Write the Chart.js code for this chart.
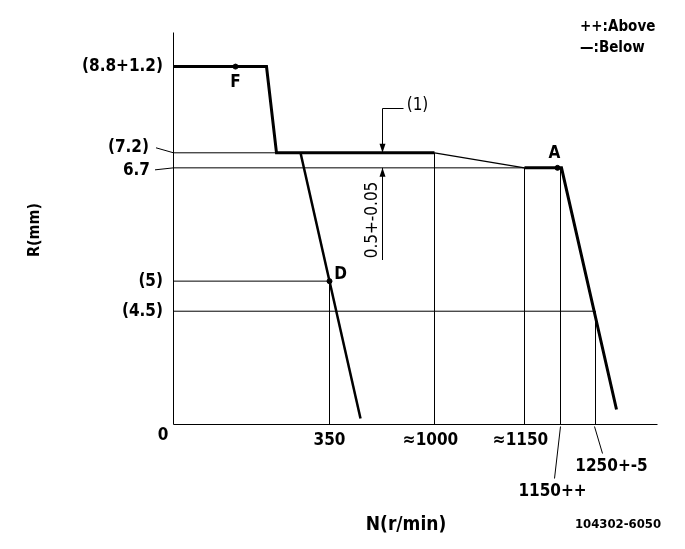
<!DOCTYPE html>
<html>
<head>
<meta charset="utf-8">
<script src="https://cdn.jsdelivr.net/npm/chart.js@4"></script>
<style>
  html, body { margin: 0; padding: 0; background: #fff; }
  #wrap { width: 685px; height: 549px; }
</style>
</head>
<body>
<div id="wrap"><canvas id="myChart"></canvas></div>
<script>
// schematic diagram: values are positions along the (non-scaled) axes
const xTickPos = [0, 156, 261, 351, 387, 422];
const xTickLabels = ["0", "350", "≈1000", "≈1150", "1150++", "1250+-5"];
const yTickPos = [113, 143, 256, 271, 357];
const yTickLabels = ["(4.5)", "(5)", "6.7", "(7.2)", "(8.8+1.2)"];

// full load / governor curve
const fullX = [0, 93, 103, 261];
const fullY = [357, 357, 271, 271];
const slopeX = [261, 351];
const slopeY = [271, 256];
const governX = [351, 388, 443];
const governY = [256, 256, 15];
// idle curve
const idleX = [127, 187];
const idleY = [271, 6];

const pointNames = ["F", "D", "A"];
const pointX = [62, 156, 384];
const pointY = [357, 143, 256];

function pts(xs, ys) {
  return xs.map((x, i) => ({ x: x, y: ys[i] }));
}

const FONT = '"Liberation Sans Narrow", "DejaVu Sans Condensed", sans-serif';

const guides = [];
// horizontal guides from the axis
guides.push(pts([0, xTickPos[5]], [yTickPos[0], yTickPos[0]]));
guides.push(pts([0, xTickPos[1]], [yTickPos[1], yTickPos[1]]));
guides.push(pts([0, xTickPos[4]], [yTickPos[2], yTickPos[2]]));
guides.push(pts([0, xTickPos[2]], [yTickPos[3], yTickPos[3]]));
// vertical guides from the axis
guides.push(pts([xTickPos[1], xTickPos[1]], [0, yTickPos[1]]));
guides.push(pts([xTickPos[2], xTickPos[2]], [0, yTickPos[3]]));
guides.push(pts([xTickPos[3], xTickPos[3]], [0, yTickPos[2]]));
guides.push(pts([xTickPos[4], xTickPos[4]], [0, yTickPos[2]]));
guides.push(pts([xTickPos[5], xTickPos[5]], [0, yTickPos[0]]));

const datasets = [];
guides.forEach(g => datasets.push({ data: g, borderColor: "#000", borderWidth: 1, showLine: true, pointRadius: 0 }));
datasets.push({ data: pts(slopeX, slopeY), borderColor: "#000", borderWidth: 1.2, showLine: true, pointRadius: 0 });
datasets.push({ data: pts(fullX, fullY), borderColor: "#000", borderWidth: 3, showLine: true, pointRadius: 0 });
datasets.push({ data: pts(governX, governY), borderColor: "#000", borderWidth: 3, showLine: true, pointRadius: 0 });
datasets.push({ data: pts(idleX, idleY), borderColor: "#000", borderWidth: 2.5, showLine: true, pointRadius: 0 });
datasets.push({ data: pts(pointX, pointY), borderColor: "#000", backgroundColor: "#000", pointRadius: 2.5, showLine: false });

function arrow(ctx, x, y, dir) {
  // dir 1 = pointing down, -1 = pointing up
  ctx.beginPath();
  ctx.moveTo(x, y);
  ctx.lineTo(x - 3, y - dir * 9);
  ctx.lineTo(x + 3, y - dir * 9);
  ctx.closePath();
  ctx.fill();
}

const drawing = {
  id: "drawing",
  afterDatasetsDraw(chart) {
    const ctx = chart.ctx;
    const xs = chart.scales.x, ys = chart.scales.y;
    const px = v => xs.getPixelForValue(v);
    const py = v => ys.getPixelForValue(v);
    ctx.save();
    ctx.strokeStyle = "#000";
    ctx.fillStyle = "#000";
    ctx.lineWidth = 1;

    // axes
    ctx.beginPath();
    ctx.moveTo(px(0), py(391));
    ctx.lineTo(px(0), py(0));
    ctx.lineTo(px(484), py(0));
    ctx.stroke();

    // y tick labels
    ctx.font = "bold 17px " + FONT;
    ctx.textBaseline = "middle";
    ctx.textAlign = "right";
    ctx.fillText(yTickLabels[4], 163, py(yTickPos[4]));
    ctx.fillText(yTickLabels[1], 163, py(yTickPos[1]));
    ctx.fillText(yTickLabels[0], 163, py(yTickPos[0]));
    ctx.fillText(yTickLabels[3], 149, py(yTickPos[3]) - 5);
    ctx.fillText(yTickLabels[2], 150, py(yTickPos[2]) + 3);
    ctx.beginPath();
    ctx.moveTo(156, py(yTickPos[3]) - 5);
    ctx.lineTo(px(0), py(yTickPos[3]));
    ctx.moveTo(155, py(yTickPos[2]) + 2);
    ctx.lineTo(px(0), py(yTickPos[2]));
    ctx.stroke();

    // x tick labels
    ctx.textAlign = "center";
    const by = py(0);
    ctx.fillText(xTickLabels[0], 163, by + 11);
    ctx.fillText(xTickLabels[1], px(xTickPos[1]), by + 16);
    ctx.fillText(xTickLabels[2], px(xTickPos[2]) - 4, by + 16);
    ctx.fillText(xTickLabels[3], px(xTickPos[3]) - 4, by + 16);
    ctx.fillText(xTickLabels[5], px(xTickPos[5]) + 16, by + 42);
    ctx.fillText(xTickLabels[4], px(xTickPos[4]) - 8, by + 67);
    ctx.beginPath();
    ctx.moveTo(px(xTickPos[5]) - 1, by + 2);
    ctx.lineTo(px(xTickPos[5]) + 7, by + 29);
    ctx.moveTo(px(xTickPos[4]), by + 2);
    ctx.lineTo(px(xTickPos[4]) - 6, by + 54);
    ctx.stroke();

    // point names
    ctx.fillText(pointNames[0], px(pointX[0]), py(pointY[0]) + 16);
    ctx.fillText(pointNames[1], px(pointX[1]) + 11, py(pointY[1]) - 7);
    ctx.fillText(pointNames[2], px(pointX[2]) - 3, py(pointY[2]) - 14);

    // dimension (1)
    const dx = px(209);
    ctx.beginPath();
    ctx.moveTo(dx, 108.5);
    ctx.lineTo(dx, py(yTickPos[3]));
    ctx.moveTo(dx, py(yTickPos[2]));
    ctx.lineTo(dx, 260);
    ctx.moveTo(dx, 108.5);
    ctx.lineTo(dx + 21, 108.5);
    ctx.stroke();
    arrow(ctx, dx, py(yTickPos[3]), 1);
    arrow(ctx, dx, py(yTickPos[2]), -1);
    ctx.font = "17px " + FONT;
    ctx.fillText("(1)", dx + 35, 106);
    ctx.save();
    ctx.translate(dx - 10, 220);
    ctx.rotate(-Math.PI / 2);
    ctx.fillText("0.5+-0.05", 0, 0);
    ctx.restore();

    // legend notes
    ctx.font = "bold 15px " + FONT;
    ctx.textAlign = "left";
    ctx.fillText("++:Above", 580, 27);
    ctx.fillText("\u2014:Below", 580, 48);

    // axis titles
    ctx.textAlign = "center";
    ctx.font = "bold 19px " + FONT;
    ctx.fillText("N(r/min)", 406, 525);
    ctx.font = "bold 16px " + FONT;
    ctx.save();
    ctx.translate(35, 230);
    ctx.rotate(-Math.PI / 2);
    ctx.fillText("R(mm)", 0, 0);
    ctx.restore();
    ctx.font = "bold 13px " + FONT;
    ctx.fillText("104302-6050", 618, 525);
    ctx.restore();
  }
};

const chart1 = document.getElementById("myChart");
var myChart = new Chart(chart1, {
  type: "scatter",
  data: { datasets: datasets },
  options: {
    responsive: true,
    maintainAspectRatio: false,
    animation: false,
    events: [],
    layout: {
      padding: { left: 173.5, right: 27.5, top: 32.5, bottom: 124.5 },
    },
    scales: {
      x: { type: "linear", min: 0, max: 484, display: false },
      y: { type: "linear", min: 0, max: 391, display: false },
    },
    plugins: {
      legend: { display: false },
      tooltip: { enabled: false },
    },
  },
  plugins: [drawing],
});
</script>
</body>
</html>
